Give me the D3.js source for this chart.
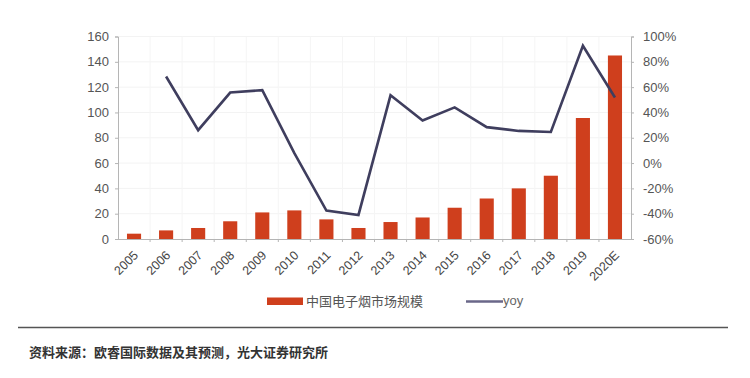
<!DOCTYPE html>
<html><head><meta charset="utf-8">
<script src="https://cdn.jsdelivr.net/npm/d3@7/dist/d3.min.js"></script>
<style>
html,body{margin:0;padding:0;background:#fff;}
svg{display:block;font-family:"Liberation Sans","DejaVu Sans",Arial,sans-serif;}
</style></head>
<body>
<svg id="c" width="750" height="378"></svg>
<script>
const categories = ["2005","2006","2007","2008","2009","2010","2011","2012","2013","2014","2015","2016","2017","2018","2019","2020E"];
const marketSize = [4.2, 6.8, 8.7, 14, 21, 22.6, 15.5, 8.7, 13.4, 17, 24.7, 32, 40, 50, 95.6, 145];
const yoy = [null, 68.4, 26, 55.7, 57.6, 7.8, -37.6, -41, 53.5, 33.6, 44, 28.4, 25.4, 24.6, 92.7, 51.8];
const leftTicks = [0,20,40,60,80,100,120,140,160];
const rightTicks = [-60,-40,-20,0,20,40,60,80,100];
const seriesNames = ["中国电子烟市场规模","yoy"];
const sourceText = "资料来源：欧睿国际数据及其预测，光大证券研究所";

const svg = d3.select("#c");
const L = 118, R = 631, T = 36.5, B = 239;
const x = d3.scaleBand().domain(categories).range([L, R]).paddingInner(0.56).paddingOuter(0.28);
const xb = d3.scaleBand().domain(categories).range([L, R]);
const yL = d3.scaleLinear().domain([0,160]).range([B, T]);
const yR = d3.scaleLinear().domain([-60,100]).range([B, T]);

// faint grid
const g0 = svg.append("g");
g0.selectAll("line.h").data(leftTicks.slice(1)).join("line")
  .attr("x1", L).attr("x2", R).attr("y1", d=>yL(d)).attr("y2", d=>yL(d))
  .attr("stroke", "#f3f3f3").attr("stroke-width", 1);
g0.selectAll("line.v").data(categories.slice(1)).join("line")
  .attr("x1", d=>xb(d)).attr("x2", d=>xb(d)).attr("y1", T).attr("y2", B)
  .attr("stroke", "#f5f5f5").attr("stroke-width", 1);

// bars
svg.append("g").selectAll("rect").data(categories).join("rect")
  .attr("x", d=>x(d)).attr("width", x.bandwidth())
  .attr("y", (d,i)=>yL(marketSize[i])).attr("height", (d,i)=>B - yL(marketSize[i]))
  .attr("fill", "#cf3f1d");

// axes
const axL = d3.axisLeft(yL).tickValues(leftTicks).tickSize(3).tickPadding(6);
const axR = d3.axisRight(yR).tickValues(rightTicks).tickSize(3).tickPadding(9).tickFormat(d=>d+"%");
const axB = d3.axisBottom(xb).tickSize(0).tickFormat("");
function styleAxis(g){
  g.select(".domain").attr("stroke","#b5b5b5");
  g.selectAll(".tick line").attr("stroke","#b5b5b5");
  g.selectAll("text").attr("fill","#555").style("font-size","13px").style("font-family","'Liberation Sans',Arial,sans-serif");
}
svg.append("g").attr("transform",`translate(${L},0)`).call(axL).call(styleAxis);
svg.append("g").attr("transform",`translate(${R},0)`).call(axR).call(styleAxis);
const gx = svg.append("g").attr("transform",`translate(0,${B})`).call(axB).call(styleAxis);
gx.select(".domain").attr("d", `M${L},0.5H${R}`);
// small ticks between categories
gx.selectAll("line.sep").data(categories.slice(1)).join("line").attr("class","sep")
  .attr("x1", d=>xb(d)).attr("x2", d=>xb(d)).attr("y1", 0).attr("y2", 3).attr("stroke","#b5b5b5");
// rotated labels
gx.selectAll("text.lab").data(categories).join("text").attr("class","lab")
  .attr("transform", d=>`translate(${xb(d)+xb.bandwidth()/2+5},${17}) rotate(-45)`)
  .attr("text-anchor","end").attr("fill","#444").style("font-size","12.5px")
  .text(d=>d);

// yoy line
const pts = categories.map((c,i)=>({c, v:yoy[i]})).filter(d=>d.v!==null);
svg.append("path").datum(pts)
  .attr("d", d3.line().x(d=>xb(d.c)+xb.bandwidth()/2).y(d=>yR(d.v)))
  .attr("fill","none").attr("stroke","#3f3e5e").attr("stroke-width",2.6).attr("stroke-linejoin","miter");

// legend
const lg = svg.append("g");
lg.append("rect").attr("x",267).attr("y",297.5).attr("width",36).attr("height",7.5).attr("fill","#cf3f1d");
lg.append("text").attr("x",306).attr("y",306).attr("fill","#555").style("font-size","13px")
  .style("font-family","'Noto Sans CJK SC',sans-serif").text(seriesNames[0]);
lg.append("line").attr("x1",466).attr("x2",503).attr("y1",301.5).attr("y2",301.5).attr("stroke","#6a6789").attr("stroke-width",2.5);
lg.append("text").attr("x",503).attr("y",305).attr("fill","#666").style("font-size","13px").text(seriesNames[1]);

// separator + source
svg.append("line").attr("x1",18).attr("x2",728).attr("y1",327.5).attr("y2",327.5).attr("stroke","#555").attr("stroke-width",1.6);
svg.append("text").attr("x",29).attr("y",357).attr("fill","#333").style("font-size","13px")
  .style("font-family","'Noto Sans CJK SC',sans-serif").style("font-weight","bold").text(sourceText);
</script>
</body></html>
